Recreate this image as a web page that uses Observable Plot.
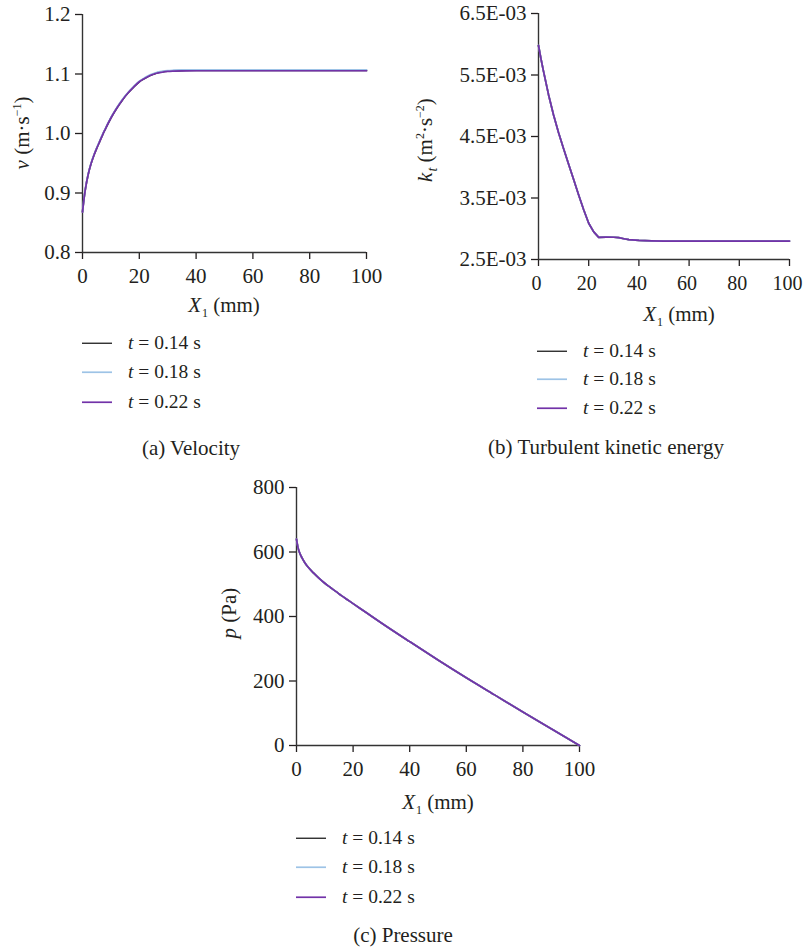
<!DOCTYPE html>
<html><head><meta charset="utf-8">
<script src="https://cdn.jsdelivr.net/npm/d3@7"></script>
<script src="https://cdn.jsdelivr.net/npm/@observablehq/plot@0.6"></script>
<style>
body{margin:0;background:#fff;}
#root{position:relative;width:803px;height:949px;overflow:hidden;font-family:"Liberation Serif","DejaVu Serif",serif;color:#231f20;}
.abs{position:absolute;white-space:nowrap;line-height:1;}
.c{transform:translate(-50%,-50%);}
.rot{transform:translate(-50%,-50%) rotate(-90deg);}
.lbl{font-size:21px;}
.cap{font-size:21px;}
.leg{font-size:19.5px;transform:translateY(-50%);display:flex;align-items:center;}
sub.s{font-size:12px;vertical-align:-5px;margin-left:1px;}
sup.s{font-size:12px;vertical-align:8px;}
.abs svg{overflow:visible;}
</style></head><body><div id="root"></div>
<script>
// ---------- shared ----------
const timeLabels = ["0.14", "0.18", "0.22"];
const seriesColors = ["#1e1e1e", "#9dc3e6", "#7232a8"];
const xTicks = [0, 20, 40, 60, 80, 100];

// ---------- (a) velocity ----------
const velX   = [0, 0.5, 1, 2, 3, 4, 5, 6, 7, 8, 10, 12, 14, 16, 18, 20, 22, 24, 26, 28, 30, 32, 35, 40, 50, 60, 70, 80, 90, 100];
const vel014 = [0.868, 0.889, 0.906, 0.931, 0.949, 0.963, 0.975, 0.986, 0.997, 1.007, 1.026, 1.042, 1.056, 1.068, 1.078, 1.087, 1.093, 1.098, 1.1015, 1.1035, 1.1048, 1.1054, 1.1058, 1.106, 1.106, 1.106, 1.106, 1.106, 1.106, 1.106];
const vel018 = [0.868, 0.890, 0.907, 0.932, 0.950, 0.964, 0.976, 0.987, 0.998, 1.008, 1.027, 1.043, 1.057, 1.069, 1.079, 1.088, 1.094, 1.099, 1.1025, 1.1045, 1.1058, 1.1064, 1.1068, 1.107, 1.107, 1.107, 1.107, 1.107, 1.107, 1.107];
const vel022 = [0.868, 0.889, 0.906, 0.931, 0.949, 0.963, 0.975, 0.986, 0.997, 1.007, 1.026, 1.042, 1.056, 1.068, 1.078, 1.087, 1.093, 1.098, 1.1012, 1.103, 1.1043, 1.1049, 1.1053, 1.1055, 1.1055, 1.1055, 1.1055, 1.1055, 1.1055, 1.1055];
const velTicks = [0.8, 0.9, 1.0, 1.1, 1.2];

// ---------- (b) turbulent kinetic energy ----------
const ktX   = [0, 1, 2, 4, 6, 8, 10, 12, 14, 16, 18, 20, 22, 24, 27, 30, 32, 34, 36, 40, 45, 50, 60, 70, 80, 90, 100];
const kt014 = [5.98e-3, 5.76e-3, 5.56e-3, 5.18e-3, 4.85e-3, 4.56e-3, 4.30e-3, 4.05e-3, 3.80e-3, 3.55e-3, 3.31e-3, 3.09e-3, 2.95e-3, 2.86e-3, 2.865e-3, 2.862e-3, 2.855e-3, 2.838e-3, 2.822e-3, 2.81e-3, 2.804e-3, 2.80e-3, 2.80e-3, 2.80e-3, 2.80e-3, 2.80e-3, 2.80e-3];
const kt018 = [5.98e-3, 5.76e-3, 5.56e-3, 5.18e-3, 4.85e-3, 4.56e-3, 4.30e-3, 4.05e-3, 3.80e-3, 3.55e-3, 3.31e-3, 3.09e-3, 2.95e-3, 2.86e-3, 2.865e-3, 2.862e-3, 2.855e-3, 2.838e-3, 2.822e-3, 2.81e-3, 2.804e-3, 2.80e-3, 2.80e-3, 2.80e-3, 2.80e-3, 2.80e-3, 2.80e-3];
const kt022 = [5.98e-3, 5.76e-3, 5.56e-3, 5.18e-3, 4.85e-3, 4.56e-3, 4.30e-3, 4.05e-3, 3.80e-3, 3.55e-3, 3.31e-3, 3.09e-3, 2.95e-3, 2.86e-3, 2.865e-3, 2.862e-3, 2.855e-3, 2.838e-3, 2.822e-3, 2.81e-3, 2.804e-3, 2.80e-3, 2.80e-3, 2.80e-3, 2.80e-3, 2.80e-3, 2.80e-3];
const ktTicks = [2.5e-3, 3.5e-3, 4.5e-3, 5.5e-3, 6.5e-3];
const ktTickLabels = ["2.5E-03", "3.5E-03", "4.5E-03", "5.5E-03", "6.5E-03"];

// ---------- (c) pressure ----------
const pX   = [0, 0.5, 1, 2, 3, 4, 6, 8, 10, 12, 14, 16, 18, 20, 25, 30, 40, 50, 60, 70, 80, 90, 100];
const p014 = [640, 615, 600, 581, 566, 554, 535, 518, 503, 490, 477, 464, 452, 440, 410, 380, 322, 265, 210, 157, 104, 52, 0];
const p018 = [640, 615, 600, 581, 566, 554, 535, 518, 503, 490, 477, 464, 452, 440, 410, 380, 322, 265, 210, 157, 104, 52, 0];
const p022 = [640, 615, 600, 581, 566, 554, 535, 518, 503, 490, 477, 464, 452, 440, 410, 380, 322, 265, 210, 157, 104, 52, 0];
const pTicks = [0, 200, 400, 600, 800];

// ---------- helpers ----------
const root = document.getElementById("root");
function rows(xs, ...series) {
  const out = [];
  series.forEach((ys, i) => xs.forEach((x, j) => out.push({x, y: ys[j], t: timeLabels[i]})));
  return out;
}
function place(node, left, top) {
  const d = document.createElement("div");
  d.className = "abs";
  d.style.left = left + "px";
  d.style.top = top + "px";
  d.appendChild(node);
  root.appendChild(d);
}
function html(cls, x, y, inner) {
  const d = document.createElement("div");
  d.className = "abs " + cls;
  d.style.left = x + "px";
  d.style.top = y + "px";
  d.innerHTML = inner;
  root.appendChild(d);
}
function panel(o) {
  return Plot.plot({
    width: o.width, height: o.height,
    marginLeft: o.ml, marginRight: o.mr, marginTop: o.mt, marginBottom: o.mb,
    style: {fontFamily: '"Liberation Serif","DejaVu Serif",serif', fontSize: "21px", color: "#231f20", background: "transparent", overflow: "visible"},
    x: {domain: [0, 100]},
    y: {domain: o.yDomain},
    color: {domain: timeLabels, range: seriesColors},
    marks: [
      // tick marks
      Plot.axisX({ticks: xTicks, tickSize: 7, tickFormat: () => "", label: null, strokeWidth: 1.3}),
      // tick labels (optionally nudged so the last one stays inside the page)
      Plot.axisX({ticks: xTicks, tickSize: 0, tickPadding: 16, label: null, fontSize: o.xFont || 21, dx: o.xdx || 0}),
      Plot.axisY({ticks: o.yTicks, tickFormat: o.yFmt, tickSize: 7, tickPadding: 5, label: null, strokeWidth: 1.3}),
      Plot.ruleX([0], {stroke: "#333", strokeWidth: 1.4}),
      Plot.ruleY([o.yDomain[0]], {stroke: "#333", strokeWidth: 1.4}),
      Plot.line(o.data, {x: "x", y: "y", z: "t", stroke: "t", strokeWidth: 1.7, curve: o.curve || "monotone-x"})
    ]
  });
}
function legend(x0, ys) {
  timeLabels.forEach((t, i) => {
    html("leg", x0, ys[i],
      `<svg width="30" height="4" style="margin-right:16px"><line x1="0" x2="30" y1="2" y2="2" stroke="${seriesColors[i]}" stroke-width="${i === 0 ? 1.3 : 1.7}"/></svg><span><i>t</i> = ${t} s</span>`);
  });
}

// ---------- panel (a) ----------
place(panel({
  data: rows(velX, vel014, vel018, vel022),
  width: 386, height: 292, ml: 82, mr: 20, mt: 14, mb: 40,
  yDomain: [0.8, 1.2], yTicks: velTicks, yFmt: d3.format(".1f")
}), 0, 0);
html("lbl rot", 22, 133, `<i>v</i> (m·s<sup class="s">−1</sup>)`);
html("lbl c", 224, 307, `<i>X</i><sub class="s">1</sub> (mm)`);
legend(82, [343, 372, 402]);
html("cap c", 191, 448, "(a) Velocity");

// ---------- panel (b) ----------
place(panel({
  data: rows(ktX, kt014, kt018, kt022),
  width: 403, height: 299, ml: 138, mr: 14, mt: 13, mb: 40, curve: "linear", xFont: 20, xdx: -2,
  yDomain: [2.5e-3, 6.5e-3], yTicks: ktTicks, yFmt: (d) => ktTickLabels[ktTicks.indexOf(d)]
}), 400, 0);
html("lbl rot", 427, 140, `<i>k<sub class="s" style="font-size:14px;vertical-align:-5px">t</sub></i> (m<sup class="s">2</sup>·s<sup class="s">−2</sup>)`);
html("lbl c", 679, 316, `<i>X</i><sub class="s">1</sub> (mm)`);
legend(537, [351, 379, 408]);
html("cap c", 606, 447, "(b) Turbulent kinetic energy");

// ---------- panel (c) ----------
place(panel({
  data: rows(pX, p014, p018, p022),
  width: 379, height: 315, ml: 76, mr: 20, mt: 17, mb: 40,
  yDomain: [0, 800], yTicks: pTicks, yFmt: d3.format("d")
}), 220, 470);
html("lbl rot", 229, 613, `<i>p</i> (Pa)`);
html("lbl c", 438, 804, `<i>X</i><sub class="s">1</sub> (mm)`);
legend(296, [838, 867, 897]);
html("cap c", 403, 935, "(c) Pressure");
</script>
</body></html>
